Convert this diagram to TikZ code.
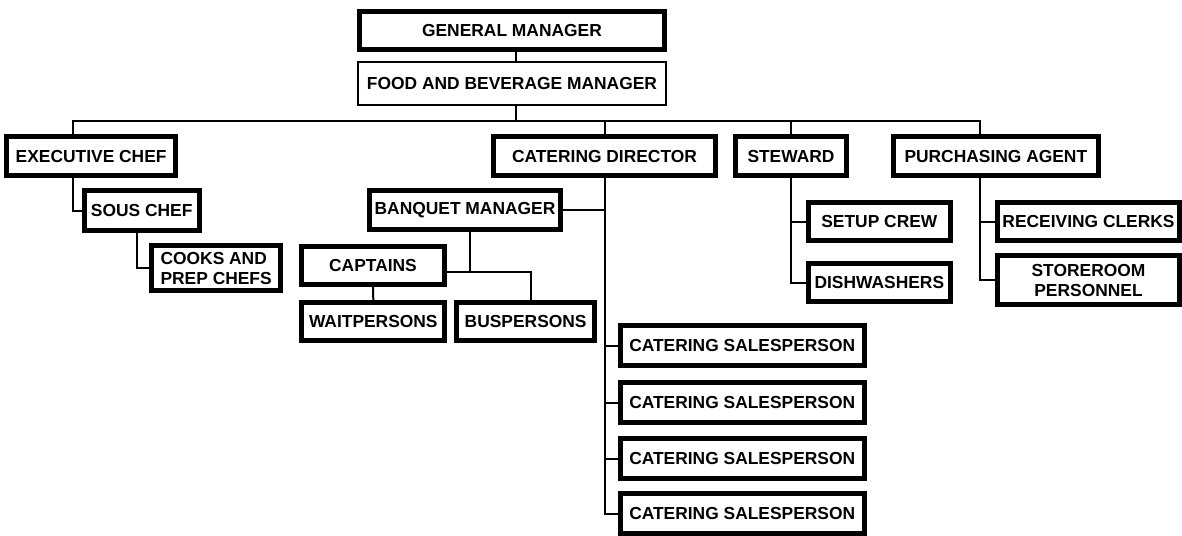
\documentclass[tikz,border=0pt]{standalone}
\usepackage{fontspec}
\setmainfont{Liberation Sans}
\begin{document}
\begin{tikzpicture}[x=1pt,y=-1pt,
    post/.style={draw,line width=5pt,inner sep=0pt,font=\fontsize{17.4}{20}\selectfont\bfseries},
    thinpost/.style={post,line width=2pt},
    link/.style={line width=2pt}]
    \useasboundingbox (0,0) rectangle (1182,535);
    \node[post,minimum width=304.4pt,minimum height=37.4pt] (gm) at (512,30.5) {GENERAL MANAGER};
    \node[thinpost,minimum width=307.4pt,minimum height=42.7pt] (fbm) at (512,83.35) {FOOD AND BEVERAGE MANAGER};
    \node[post,minimum width=169.3pt,minimum height=39.3pt] (exec) at (91.15,156.15) {EXECUTIVE CHEF};
    \node[post,minimum width=222.6pt,minimum height=39.3pt] (catdir) at (604.5,156.15) {CATERING DIRECTOR};
    \node[post,minimum width=111.6pt,minimum height=39.3pt] (steward) at (791,156.15) {STEWARD};
    \node[post,minimum width=204.7pt,minimum height=39.3pt] (purch) at (995.85,156.15) {PURCHASING AGENT};
    \node[post,minimum width=115pt,minimum height=39.4pt] (sous) at (141.7,210.5) {SOUS CHEF};
    \node[post,minimum width=129.3pt,minimum height=45pt,align=left] (cooks) at (216.15,268.3) {COOKS AND\\PREP CHEFS};
    \node[post,minimum width=190.4pt,minimum height=38.4pt] (bm) at (465,210) {BANQUET MANAGER};
    \node[post,minimum width=142.4pt,minimum height=37.4pt] (caps) at (373,265.5) {CAPTAINS};
    \node[post,minimum width=143pt,minimum height=38.3pt] (wait) at (373.3,321.65) {WAITPERSONS};
    \node[post,minimum width=137.7pt,minimum height=38.3pt] (busp) at (525.65,321.65) {BUSPERSONS};
    \node[post,minimum width=141.7pt,minimum height=38.3pt] (setup) at (879.35,221.65) {SETUP CREW};
    \node[post,minimum width=141.7pt,minimum height=38.3pt] (dish) at (879.35,282.65) {DISHWASHERS};
    \node[post,minimum width=182pt,minimum height=38.3pt] (recv) at (1088.5,221.65) {RECEIVING CLERKS};
    \node[post,minimum width=182pt,minimum height=49pt,align=center] (store) at (1088.5,280.3) {STOREROOM\\PERSONNEL};
    \foreach \i/\y in {1/345.8,2/402.5,3/458.5,4/513.5}
      \node[post,minimum width=244pt,minimum height=40pt] (sales\i) at (742.2,\y) {CATERING SALESPERSON};

    \coordinate (trunk) at (515.7,120.7);
    \coordinate (busL) at (72.7,120.7);
    \coordinate (busR) at (980,120.7);
    \coordinate (bmjoin) at (470,272.3);
    \coordinate (busjoin) at (530.7,272.3);
    \draw[link] (gm.south -| trunk) -- (fbm.north -| trunk);
    \draw[link] (fbm.south -| trunk) -- (trunk);
    \draw[link] (busL |- exec.north) -- (busL) -- (busR) -- (busR |- purch.north);
    \draw[link] (catdir.north) -- (catdir.north |- trunk);
    \draw[link] (steward.north) -- (steward.north |- trunk);
    \draw[link] (exec.south -| busL) |- (sous.west);
    \draw[link] ([xshift=-5pt]sous.south) |- (cooks.west);
    \draw[link] (catdir.south) |- (sales4.west);
    \draw[link] (bm.east) -- (bm.east -| catdir.south);
    \foreach \i in {1,2,3}
      \draw[link] (sales\i.west) -- (sales\i.west -| catdir.south);
    \draw[link] (bm.south -| bmjoin) -- (bmjoin);
    \draw[link] (caps.east |- bmjoin) -- (busjoin) -- (busjoin |- busp.north);
    \draw[link] (caps.south) -- (wait.north);
    \draw[link] (steward.south) |- (dish.west);
    \draw[link] (setup.west) -- (setup.west -| steward.south);
    \draw[link] (purch.south -| busR) |- (store.west);
    \draw[link] (recv.west) -- (recv.west -| busR);
  \end{tikzpicture}
\end{document}
